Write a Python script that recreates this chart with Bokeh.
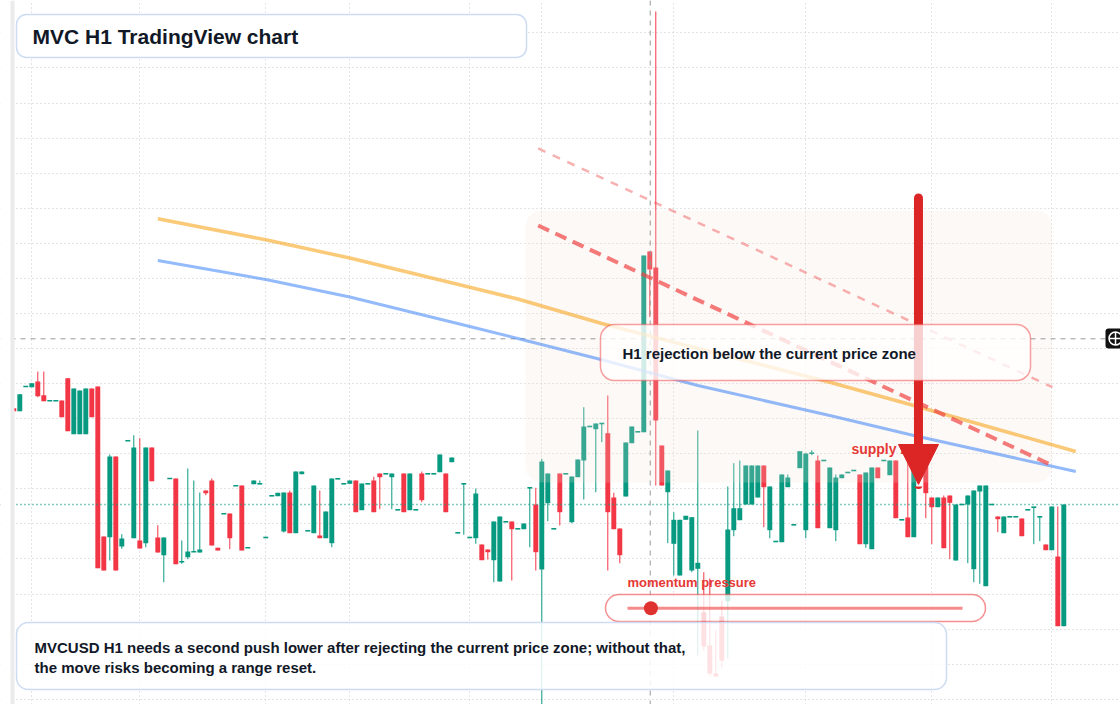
import numpy as np
import pandas as pd
from bokeh.plotting import figure
from bokeh.models import (ColumnDataSource, Range1d, BoxAnnotation, Label, Span,
                          Grid, FixedTicker, Arrow, NormalHead)
from bokeh.embed import file_html
from bokeh.resources import INLINE

# ---------------- data (MVCUSD, H1 bars, price in USD) ----------------
opens = [
    0.3963, 0.3933, 0.418, 0.4173, 0.423, 0.4093, 0.4037, 0.4037, 0.404, 0.4263,
    0.3703, 0.3703, 0.3703, 0.416, 0.418, 0.268, 0.2673, 0.348, 0.258, 0.3637,
    0.2663, 0.264, 0.2613, 0.357, 0.267, 0.2493, 0.326, 0.326, 0.2427, 0.2473,
    0.2527, 0.252, 0.314, 0.324, 0.2567, 0.2907, 0.291, 0.3187, 0.319, 0.2567,
    0.3203, 0.3207, 0.267, 0.3087, 0.3083, 0.273, 0.312, 0.2713, 0.3303, 0.2737,
    0.2713, 0.269, 0.2663, 0.2613, 0.3257, 0.3207, 0.3207, 0.324, 0.2943, 0.3207,
    0.324, 0.331, 0.3307, 0.3273, 0.2947, 0.331, 0.2943, 0.2947, 0.331, 0.3307,
    0.3307, 0.3323, 0.331, 0.3423, 0.2717, 0.3207, 0.267, 0.2663, 0.26, 0.255,
    0.2443, 0.223, 0.2827, 0.283, 0.2757, 0.2753, 0.3167, 0.3, 0.235, 0.3013,
    0.2757, 0.331, 0.3307, 0.2823, 0.3273, 0.344, 0.378, 0.3753, 0.381, 0.3713,
    0.307, 0.276, 0.308, 0.3613, 0.3727, 0.3723, 0.553, 0.537, 0.359, 0.3123,
    0.2607, 0.229, 0.2847, 0.234, 0.2357, 0.1923, 0.159, 0.131, 0.188, 0.2033,
    0.2743, 0.2843, 0.3, 0.3, 0.307, 0.339, 0.2743, 0.263, 0.2623, 0.3173,
    0.2797, 0.3363, 0.2743, 0.3513, 0.344, 0.344, 0.2763, 0.2743, 0.3263, 0.332,
    0.334, 0.33, 0.2603, 0.2553, 0.337, 0.344, 0.3293, 0.344, 0.2847, 0.287,
    0.2673, 0.344, 0.344, 0.307, 0.2973, 0.307, 0.309, 0.244, 0.3, 0.3,
    0.2353, 0.313, 0.2183, 0.3, 0.288, 0.2713, 0.2877, 0.2877, 0.286, 0.2947,
    0.2973, 0.2877, 0.26, 0.2543, 0.248, 0.1783,
]
highs = [
    0.3963, 0.4103, 0.418, 0.4213, 0.433, 0.433, 0.4037, 0.4037, 0.404, 0.4263,
    0.416, 0.414, 0.416, 0.416, 0.418, 0.268, 0.35, 0.348, 0.2703, 0.3637,
    0.3693, 0.3663, 0.357, 0.357, 0.2793, 0.267, 0.326, 0.326, 0.264, 0.336,
    0.324, 0.312, 0.314, 0.326, 0.2567, 0.2907, 0.291, 0.3187, 0.319, 0.2567,
    0.324, 0.324, 0.267, 0.3087, 0.3117, 0.312, 0.314, 0.333, 0.333, 0.2737,
    0.319, 0.314, 0.293, 0.326, 0.3257, 0.3207, 0.324, 0.324, 0.321, 0.3207,
    0.3277, 0.331, 0.3307, 0.331, 0.2947, 0.331, 0.331, 0.2947, 0.333, 0.3307,
    0.3307, 0.35, 0.331, 0.347, 0.2717, 0.3207, 0.267, 0.316, 0.26, 0.255,
    0.283, 0.288, 0.2827, 0.283, 0.2757, 0.281, 0.3167, 0.3167, 0.3457, 0.331,
    0.2757, 0.331, 0.3307, 0.328, 0.345, 0.3973, 0.378, 0.381, 0.381, 0.409,
    0.3117, 0.276, 0.362, 0.378, 0.3727, 0.549, 0.5533, 0.793, 0.359, 0.334,
    0.2923, 0.2847, 0.2887, 0.2873, 0.374, 0.2323, 0.226, 0.174, 0.204, 0.318,
    0.3413, 0.344, 0.339, 0.339, 0.339, 0.339, 0.318, 0.263, 0.33, 0.33,
    0.2797, 0.3533, 0.351, 0.3543, 0.349, 0.344, 0.337, 0.33, 0.33, 0.332,
    0.334, 0.33, 0.332, 0.337, 0.337, 0.344, 0.344, 0.344, 0.2847, 0.344,
    0.339, 0.344, 0.344, 0.307, 0.307, 0.309, 0.309, 0.3, 0.3, 0.309,
    0.314, 0.319, 0.319, 0.3, 0.288, 0.288, 0.2877, 0.2877, 0.286, 0.2947,
    0.2973, 0.2877, 0.26, 0.298, 0.298, 0.3,
]
lows = [
    0.3933, 0.3933, 0.418, 0.4173, 0.4073, 0.4033, 0.4037, 0.4037, 0.3873, 0.3733,
    0.3703, 0.3703, 0.3703, 0.3873, 0.2363, 0.234, 0.244, 0.234, 0.2557, 0.3637,
    0.2663, 0.256, 0.2573, 0.3233, 0.252, 0.2223, 0.326, 0.2403, 0.2407, 0.2453,
    0.2527, 0.252, 0.3093, 0.259, 0.254, 0.2907, 0.2553, 0.3187, 0.254, 0.2567,
    0.3203, 0.3207, 0.267, 0.3087, 0.3083, 0.272, 0.2713, 0.2713, 0.3303, 0.2737,
    0.2713, 0.2663, 0.2663, 0.2573, 0.3257, 0.3207, 0.3207, 0.2923, 0.2943, 0.3207,
    0.2923, 0.2953, 0.3307, 0.2953, 0.2947, 0.2923, 0.2943, 0.2947, 0.3023, 0.3307,
    0.3307, 0.3323, 0.2923, 0.3423, 0.2717, 0.2697, 0.267, 0.2607, 0.2443, 0.245,
    0.2223, 0.223, 0.2827, 0.224, 0.2757, 0.2753, 0.2573, 0.234, 0.092, 0.2833,
    0.2757, 0.279, 0.3307, 0.2813, 0.3273, 0.305, 0.378, 0.3123, 0.3623, 0.234,
    0.2753, 0.2413, 0.308, 0.3613, 0.3727, 0.3723, 0.4873, 0.319, 0.319, 0.2613,
    0.229, 0.229, 0.2847, 0.2323, 0.149, 0.154, 0.129, 0.128, 0.137, 0.146,
    0.2683, 0.2843, 0.3, 0.3, 0.307, 0.2773, 0.2663, 0.263, 0.2623, 0.3173,
    0.2797, 0.3363, 0.2663, 0.3493, 0.2763, 0.344, 0.2763, 0.2633, 0.3263, 0.332,
    0.334, 0.2603, 0.2567, 0.2553, 0.3263, 0.344, 0.3293, 0.2863, 0.2847, 0.2673,
    0.2673, 0.329, 0.2863, 0.2603, 0.2973, 0.2563, 0.2453, 0.244, 0.3, 0.2413,
    0.2223, 0.2207, 0.2183, 0.3, 0.2723, 0.2713, 0.2877, 0.2877, 0.2683, 0.2947,
    0.2603, 0.2633, 0.2543, 0.2543, 0.1783, 0.1783,
]
closes = [
    0.3933, 0.4103, 0.418, 0.4213, 0.4083, 0.4033, 0.4037, 0.4037, 0.3873, 0.3733,
    0.416, 0.414, 0.416, 0.3873, 0.2363, 0.234, 0.348, 0.234, 0.266, 0.3637,
    0.357, 0.256, 0.357, 0.3233, 0.252, 0.267, 0.326, 0.2403, 0.2427, 0.253,
    0.2527, 0.255, 0.3113, 0.259, 0.254, 0.2907, 0.2663, 0.3187, 0.254, 0.2567,
    0.324, 0.3207, 0.267, 0.3087, 0.3117, 0.312, 0.2713, 0.333, 0.333, 0.2737,
    0.319, 0.2663, 0.293, 0.326, 0.3257, 0.3207, 0.324, 0.2923, 0.321, 0.3207,
    0.2923, 0.3273, 0.3307, 0.331, 0.2947, 0.2923, 0.331, 0.2947, 0.3043, 0.3307,
    0.3307, 0.35, 0.2923, 0.347, 0.2717, 0.3207, 0.267, 0.311, 0.2443, 0.2523,
    0.283, 0.288, 0.2827, 0.2753, 0.2757, 0.281, 0.3167, 0.2523, 0.343, 0.331,
    0.2757, 0.2923, 0.3307, 0.328, 0.345, 0.378, 0.378, 0.381, 0.381, 0.2923,
    0.2753, 0.2493, 0.362, 0.378, 0.3727, 0.549, 0.535, 0.384, 0.319, 0.334,
    0.2847, 0.2847, 0.2887, 0.2873, 0.2417, 0.158, 0.131, 0.128, 0.144, 0.275,
    0.2963, 0.2963, 0.339, 0.339, 0.339, 0.3173, 0.318, 0.263, 0.33, 0.327,
    0.2797, 0.3533, 0.351, 0.3513, 0.2763, 0.344, 0.337, 0.327, 0.33, 0.332,
    0.334, 0.2603, 0.332, 0.337, 0.3263, 0.344, 0.344, 0.2863, 0.2847, 0.2673,
    0.339, 0.329, 0.3113, 0.2973, 0.307, 0.2563, 0.3017, 0.3, 0.3, 0.309,
    0.314, 0.319, 0.319, 0.3, 0.2853, 0.288, 0.2877, 0.2877, 0.2683, 0.2947,
    0.2973, 0.2877, 0.2543, 0.298, 0.1783, 0.3,
]

# moving averages (sampled at bar index)
ema_index = [24, 42, 56, 76, 84, 98, 114, 136, 150, 177]
ema_fast = [0.5857, 0.5647, 0.5465, 0.5173, 0.5055, 0.481, 0.456, 0.4223, 0.399, 0.353]
ema_slow = [0.544, 0.525, 0.5075, 0.478, 0.466, 0.4448, 0.419, 0.389, 0.369, 0.333]

# descending trend lines
trend_index = [87.4, 173.1]
trend_upper = [0.6561, 0.4173]
trend_lower = [0.579, 0.339]

# supply zone
zone_index = [85.3, 173.1]
zone_price = [0.322, 0.594]

# levels
last_price = 0.300
crosshair_bar = 106.07
crosshair_price = 0.4657
arrow_bar = 150.78
arrow_from = 0.6065
arrow_to = 0.320
momentum_score = 0.07

time_ticks = [3, 21, 42, 56, 76, 88, 110, 132, 153, 173]
price_levels = [0.7717, 0.7366, 0.7015, 0.6665, 0.6314, 0.5963, 0.5612, 0.5262,
                0.4911, 0.4560, 0.4210, 0.3859, 0.3508, 0.3157, 0.2807, 0.2456,
                0.2105, 0.1755, 0.1404, 0.1053]

UP = "#089981"
DOWN = "#f23645"
FONT = "Liberation Sans"
INK = "#111827"

# ---------------- figure ----------------
p = figure(width=1120, height=704, output_backend="svg", toolbar_location=None,
           x_range=Range1d(-2.2167, 184.45), y_range=Range1d(0.100, 0.804),
           x_axis_location=None, y_axis_location=None, min_border=0,
           outline_line_color=None, background_fill_color="white",
           border_fill_color="white")
p.xgrid.visible = False
p.ygrid.visible = False

p.add_layout(Grid(dimension=0, ticker=FixedTicker(ticks=time_ticks),
                  grid_line_color="#c8c8c8", grid_line_dash="1 3", grid_line_width=1))
p.add_layout(Grid(dimension=1, ticker=FixedTicker(ticks=price_levels),
                  grid_line_color="#c8c8c8", grid_line_dash="1 3", grid_line_width=1))

df = pd.DataFrame(dict(o=opens, h=highs, l=lows, c=closes))
df["i"] = np.arange(len(df))
df["up"] = df.c >= df.o
top = np.maximum(df.o, df.c)
bot = np.minimum(df.o, df.c)
mid = (top + bot) / 2
thin = (top - bot) < 0.0016
df["top"] = np.where(thin, mid + 0.0008, top)
df["bot"] = np.where(thin, mid - 0.0008, bot)
df["color"] = np.where(df.up, UP, DOWN)
src = ColumnDataSource(df)

p.segment(x0="i", y0="h", x1="i", y1="l", line_color="color", line_width=1, source=src)
p.vbar(x="i", top="top", bottom="bot", width=0.82, fill_color="color",
       line_color=None, source=src)

# supply zone (light veil above the bars)
p.add_layout(BoxAnnotation(left=zone_index[0], right=zone_index[1],
                           bottom=zone_price[0], top=zone_price[1],
                           fill_color="#f3e2d8", fill_alpha=0.2, line_color=None,
                           border_radius=16, level="guide"))

# current price and crosshair
p.add_layout(Span(location=last_price, dimension="width", line_color=UP,
                  line_dash="1 3", line_width=1.3, level="guide"))
p.add_layout(Span(location=crosshair_bar, dimension="height", line_color="#999999",
                  line_dash="5 5", line_width=1, level="guide"))
p.add_layout(Span(location=crosshair_price, dimension="width", line_color="#999999",
                  line_dash="5 5", line_width=1, level="guide"))

# averages and trend lines
p.line(ema_index, ema_fast, line_color="#f59e0b", line_alpha=0.55, line_width=3.5,
       line_join="round", level="annotation")
p.line(ema_index, ema_slow, line_color="#3b82f6", line_alpha=0.55, line_width=3,
       line_join="round", level="annotation")
p.line(trend_index, trend_upper, line_color="#ef4444", line_alpha=0.42, line_width=2.5,
       line_dash="8 8", level="annotation")
p.line(trend_index, trend_lower, line_color="#ef4444", line_alpha=0.7, line_width=4,
       line_dash="12 7", level="annotation")

# supply zone label + arrow
p.add_layout(Label(x=139.6, y=0.356, text="supply zone", text_color="#e53935",
                   text_font=FONT, text_font_style="bold", text_font_size="14px",
                   text_baseline="middle", level="annotation"))
p.add_layout(Arrow(end=NormalHead(size=40, fill_color="#dc2626", line_color="#dc2626",
                                  line_width=1),
                   x_start=arrow_bar, y_start=arrow_from, x_end=arrow_bar, y_end=arrow_to,
                   line_color="#dc2626", line_width=9, line_cap="round", level="annotation"))

p.add_layout(Label(x=102.28, y=0.222, text="momentum pressure", text_color="#e53935",
                   text_font=FONT, text_font_style="bold", text_font_size="13px",
                   text_baseline="middle", level="annotation"))


def card(left, right, bottom, top, border, border_alpha, fill_alpha, radius, level="overlay"):
    p.add_layout(BoxAnnotation(left=left, right=right, bottom=bottom, top=top,
                               fill_color="white", fill_alpha=fill_alpha,
                               line_color=border, line_alpha=border_alpha, line_width=1.5,
                               border_radius=radius, level=level))


def text(x, y, s, size, color=INK):
    p.add_layout(Label(x=x, y=y, text=s, text_color=color, text_font=FONT,
                       text_font_style="bold", text_font_size=size,
                       text_baseline="middle", level="overlay"))


# title card
card(0.45, 85.45, 0.747, 0.790, "#cddcf3", 1.0, 0.95, 10)
text(3.12, 0.7685, "MVC H1 TradingView chart", "21px")

# rejection card
card(97.78, 169.45, 0.424, 0.480, "#ef4444", 0.5, 0.78, 14)
text(101.45, 0.451, "H1 rejection below the current price zone", "15px")

# momentum widget (card under its track and marker)
card(98.62, 161.95, 0.183, 0.210, "#ef4444", 0.6, 0.8, 14, level="annotation")
track = [102.28, 158.12]
p.line(track, [0.1963, 0.1963], line_color="#ef4444", line_alpha=0.62, line_width=3,
       level="overlay")
p.scatter([track[0] + momentum_score * (track[1] - track[0])], [0.1963], size=14,
          fill_color="#e03131", line_color=None, level="overlay")

# note card
card(0.45, 155.45, 0.115, 0.182, "#cddcf3", 1.0, 0.85, 12)
text(3.45, 0.157, "MVCUSD H1 needs a second push lower after rejecting the current price zone; without that,", "15px")
text(3.45, 0.137, "the move risks becoming a range reset.", "15px")

# crosshair badge at right edge
p.add_layout(BoxAnnotation(left=181.95, right=186, bottom=0.456, top=0.476,
                           fill_color="#111111", fill_alpha=1, line_color=None,
                           border_radius=3, level="annotation"))
p.scatter([183.62], [0.466], marker="circle_cross", size=13, fill_color="#111111",
          line_color="white", line_width=1.5, level="overlay")

# left edge strip
p.add_layout(BoxAnnotation(left=0, right=10, left_units="screen", right_units="screen",
                           fill_color="white", fill_alpha=1, line_color=None, level="overlay"))
p.add_layout(BoxAnnotation(left=10, right=14, left_units="screen", right_units="screen",
                           fill_color="#ebebeb", fill_alpha=1, line_color=None, level="overlay"))

open("out.html", "w").write(file_html(p, INLINE))
